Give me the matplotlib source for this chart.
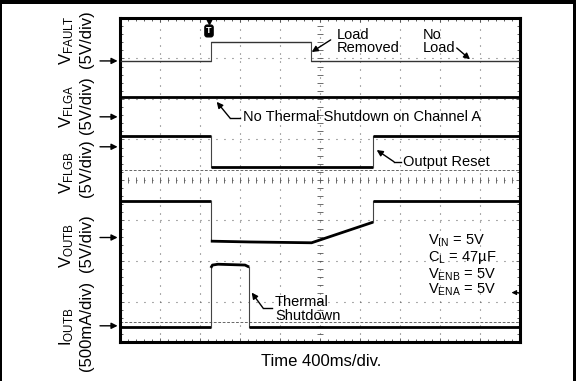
import matplotlib
matplotlib.use("Agg")
import matplotlib.pyplot as plt
from matplotlib.patches import Rectangle

plt.rcParams['font.family'] = ['Liberation Sans', 'DejaVu Sans']
plt.rcParams['mathtext.fontset'] = 'custom'
plt.rcParams['mathtext.rm'] = 'Liberation Sans'
plt.rcParams['mathtext.it'] = 'Liberation Sans:italic'
plt.rcParams['lines.scale_dashes'] = False

# ---- data: time in ms (400 ms/div), level in screen divisions (0..8) ----
t_fault = [0, 908, 908, 1908, 1908, 4000]
v_fault = [6.94, 6.94, 7.40, 7.40, 6.94, 6.94]

t_flga = [0, 4000]
v_flga = [6.06, 6.06]

t_flgb = [0, 908, 908, 2532, 2532, 4000]
v_flgb = [5.09, 5.09, 4.31, 4.31, 5.09, 5.09]

t_outb = [0, 908, 908, 1300, 1916, 2532, 2532, 4000]
v_outb = [3.49, 3.49, 2.49, 2.47, 2.45, 2.96, 3.49, 3.49]

t_ioutb = [0, 908, 908, 925, 980, 1250, 1292, 1292, 4000]
v_ioutb = [0.36, 0.36, 1.83, 1.90, 1.92, 1.90, 1.85, 0.36, 0.36]

ghost_levels = [4.25, 0.50]

ground_levels = [6.94, 5.56, 4.82, 2.58, 0.40]

channel_labels = [r'$\mathrm{V}_{\mathrm{FAULT}}$', r'$\mathrm{V}_{\mathrm{FLGA}}$',
                  r'$\mathrm{V}_{\mathrm{FLGB}}$', r'$\mathrm{V}_{\mathrm{OUTB}}$',
                  r'$\mathrm{I}_{\mathrm{OUTB}}$']
scale_labels = ['(5V/div)', '(5V/div)', '(5V/div)', '(5V/div)', '(500mA/div)']

conditions = [r'$\mathrm{V}_{\mathrm{IN}}$ = 5V', r'$\mathrm{C}_{\mathrm{L}}$ = 47µF',
              r'$\mathrm{V}_{\mathrm{ENB}}$ = 5V', r'$\mathrm{V}_{\mathrm{ENA}}$ = 5V']

W, H = 576, 381
fig = plt.figure(figsize=(W / 100, H / 100), dpi=100)
fig.patch.set_facecolor('white')
ax = fig.add_axes([120 / W, 1 - 342 / H, 400 / W, 324 / H])
ax.set_xlim(0, 4000)
ax.set_ylim(0, 8)

# grid
grid_ls = (0, (0.7, 5.06))
for k in range(1, 10):
    ax.axvline(k * 400, color='#555555', lw=0.8, ls=grid_ls, zorder=1)
for k in range(1, 8):
    ax.axhline(k, color='#555555', lw=0.8, ls=grid_ls, zorder=1)
# center cross ticks
xs = [i * 80 for i in range(1, 50)]
ax.plot(xs, [4] * len(xs), ls='none', marker='|', ms=4, mew=0.6, color='#555555', zorder=1)
ys = [i * 0.2 for i in range(1, 40)]
ax.plot([2000] * len(ys), ys, ls='none', marker='_', ms=4, mew=0.6, color='#555555', zorder=1)

ax.set_xticks([i * 400 for i in range(11)])
ax.set_yticks(list(range(9)))
ax.set_xticks(xs, minor=True)
ax.set_yticks(ys, minor=True)
ax.tick_params(which='both', direction='in', top=True, right=True,
               labelbottom=False, labelleft=False, color='#444444', width=0.6)
ax.tick_params(which='major', length=3)
ax.tick_params(which='minor', length=2)
for s in ax.spines.values():
    s.set_linewidth(2.2)

# ghost traces
for g in ghost_levels:
    ax.plot([0, 4000], [g, g], color='#666666', lw=0.7, ls=(0, (2, 1.2)), zorder=2)


def draw_trace(t, v, lw_h, color_h='black'):
    run_t, run_v = [t[0]], [v[0]]
    for i in range(len(t) - 1):
        if t[i] == t[i + 1]:
            if len(run_t) > 1:
                ax.plot(run_t, run_v, color=color_h, lw=lw_h, solid_capstyle='butt', zorder=3)
            ax.plot([t[i], t[i + 1]], [v[i], v[i + 1]], color='#444444', lw=0.8, zorder=3)
            run_t, run_v = [t[i + 1]], [v[i + 1]]
        else:
            run_t.append(t[i + 1])
            run_v.append(v[i + 1])
    if len(run_t) > 1:
        ax.plot(run_t, run_v, color=color_h, lw=lw_h, solid_capstyle='butt', zorder=3)


draw_trace(t_fault, v_fault, 1.0, '#333333')
draw_trace(t_flga, v_flga, 2.0)
draw_trace(t_flgb, v_flgb, 2.0)
draw_trace(t_outb, v_outb, 2.0)
draw_trace(t_ioutb, v_ioutb, 2.0)

# ground markers
for g in ground_levels:
    ax.annotate('', xy=(-0.006, g), xycoords=('axes fraction', 'data'),
                xytext=(-0.05, g), textcoords=('axes fraction', 'data'),
                arrowprops=dict(arrowstyle='-|>', color='black', lw=1.0,
                                mutation_scale=9, shrinkA=0, shrinkB=0),
                annotation_clip=False)

# trigger level marker on right
ax.annotate('', xy=(3915, 1.22), xytext=(3985, 1.22),
            arrowprops=dict(arrowstyle='-|>', color='black', lw=0.8,
                            mutation_scale=7, shrinkA=0, shrinkB=0))

# trigger T marker
ax.plot([890], [7.93], marker='v', ms=5, color='black', clip_on=False, zorder=5)
ax.text(890, 7.68, 'T', ha='center', va='center', color='white', fontsize=6.5,
        fontweight='bold', zorder=6,
        bbox=dict(boxstyle='round,pad=0.15,rounding_size=0.25', fc='black', ec='black'))

fs = 10.5
arrow_kw = dict(arrowstyle='-|>', color='black', lw=1.0, mutation_scale=9, shrinkA=0, shrinkB=0)

# Load Removed
ax.text(2170, 7.42, 'Load\nRemoved', ha='left', va='center', fontsize=fs, linespacing=0.95)
ax.annotate('', xy=(1917, 7.16), xytext=(2107, 7.46), arrowprops=arrow_kw)
# No Load
ax.text(3030, 7.42, 'No\nLoad', ha='left', va='center', fontsize=fs, linespacing=0.95)
ax.annotate('', xy=(3500, 6.98), xytext=(3367, 7.26), arrowprops=arrow_kw)

# No Thermal Shutdown on Channel A
ax.text(1230, 5.556, 'No Thermal Shutdown on Channel A', ha='left', va='center', fontsize=fs)
ax.plot([1100, 1200], [5.53, 5.53], color='black', lw=1.0)
ax.annotate('', xy=(967, 5.93), xytext=(1100, 5.53), arrowprops=arrow_kw)

# Output Reset
ax.text(2833, 4.45, 'Output Reset', ha='left', va='center', fontsize=fs)
ax.plot([2740, 2807], [4.45, 4.45], color='black', lw=1.0)
ax.annotate('', xy=(2567, 4.74), xytext=(2740, 4.45), arrowprops=arrow_kw)

# Thermal Shutdown
ax.text(1550, 0.815, 'Thermal\nShutdown', ha='left', va='center', fontsize=fs, linespacing=0.95)
ax.plot([1430, 1520], [0.84, 0.84], color='black', lw=1.0)
ax.annotate('', xy=(1317, 1.22), xytext=(1430, 0.84), arrowprops=arrow_kw)

# conditions
cond_y = [2.49, 2.08, 1.67, 1.28]
for txt, yy in zip(conditions, cond_y):
    ax.text(3083, yy, txt, ha='left', va='center', fontsize=fs)

# y-axis channel labels (rotated)
lab_y = [40, 106, 172, 245, 327]
scale_y = [39, 105, 168, 243, 326]
for lab, sc, y1, y2 in zip(channel_labels, scale_labels, lab_y, scale_y):
    fig.text(67 / W, 1 - y1 / H, lab, rotation=90, ha='center', va='center', fontsize=12)
    fig.text(86.5 / W, 1 - y2 / H, sc, rotation=90, ha='center', va='center', fontsize=12)

fig.text(321 / W, 1 - 361 / H, 'Time 400ms/div.', ha='center', va='center', fontsize=12)

# image frame
fig.patches.append(Rectangle((0, 1 - 4 / H), 1, 4 / H, transform=fig.transFigure,
                             fc='black', ec='none', zorder=10))
fig.patches.append(Rectangle((0, 0), 2 / W, 1, transform=fig.transFigure,
                             fc='black', ec='none', zorder=10))
fig.patches.append(Rectangle((573 / W, 0), 3 / W, 1, transform=fig.transFigure,
                             fc='black', ec='none', zorder=10))

fig.savefig('out.png', dpi=100)
